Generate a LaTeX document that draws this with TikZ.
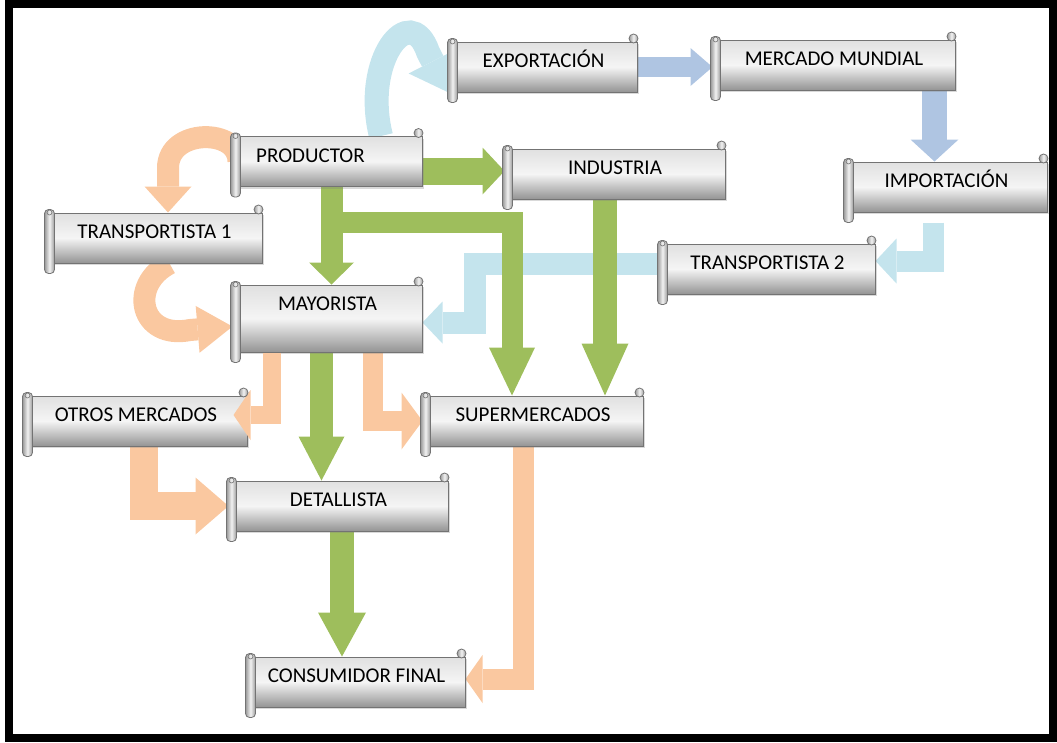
\documentclass[tikz,border=0pt]{standalone}
\usepackage{fontspec}
\usepackage{tikz}
\usetikzlibrary{arrows.meta,shadows}
\newfontfamily\boxfont{Carlito}
\definecolor{leafgreen}{HTML}{9EBE5C}
\definecolor{peach}{HTML}{FAC8A0}
\definecolor{aqua}{HTML}{C4E4ED}
\definecolor{steel}{HTML}{AFC5E2}
\pgfdeclarelayer{background}
\pgfsetlayers{background,main}
\tikzset{
BOX/.style={draw=black!55, line width=1pt, top color=black!12, bottom color=black!42, middle color=white!96!black,
  inner sep=0pt, minimum width=#1, text height=25.75pt, text depth=24.25pt,
  font=\boxfont\fontsize{21}{25}\selectfont, drop shadow={opacity=0.3,shadow xshift=2pt,shadow yshift=-2pt}},
ROLL/.style={draw=black!55, line width=0.8pt, left color=black!40, right color=black!40, middle color=white!95!black},
GREEN/.style={draw=leafgreen, line width=#1, line join=miter},
PEACH/.style={draw=peach, line width=#1, line join=miter},
AQUA/.style={draw=aqua, line width=#1, line join=miter},
STEEL/.style={draw=steel, line width=#1, line join=miter},
TIP/.style 2 args={-{Triangle[width=#1,length=#2,line width=0pt]}},
}
\begin{document}
\begin{tikzpicture}[x=1pt,y=-1pt]
	\useasboundingbox (0,0) rectangle (1057,742);
	\draw[line width=8pt] (9,4) rectangle (1053,738);
	% boxes
	\node[BOX=187pt] (expo) at (543.5,67) {EXPORTACIÓN};
	\node[BOX=242pt] (mundo) at (834,65) {MERCADO MUNDIAL};
	\node[BOX=189pt] (prod) at (327.5,161.5) {PRODUCTOR\hspace*{34pt}};
	\node[BOX=220pt] (ind) at (615,174) {INDUSTRIA};
	\node[BOX=201pt] (imp) at (946.5,187) {IMPORTACIÓN};
	\node[BOX=215pt] (trans1) at (154.5,238) {TRANSPORTISTA 1};
	\node[BOX=215pt] (trans2) at (767.5,269) {TRANSPORTISTA 2};
	\node[BOX=189pt, text depth=41.25pt] (may) at (327.5,318.5) {MAYORISTA};
	\node[BOX=222pt] (otros) at (136,421) {OTROS MERCADOS};
	\node[BOX=220pt] (super) at (533,421) {SUPERMERCADOS};
	\node[BOX=219pt] (det) at (338.5,506) {DETALLISTA};
	\node[BOX=217pt] (cons) at (356.5,682) {CONSUMIDOR FINAL};
	% this one lies over its box
	\draw[PEACH=18pt, TIP={50pt}{17pt}] ([xshift=-56]may.south) |- ([shift={(-14,-6)}]otros.east);
	% scroll ends
	\foreach \n in {expo,mundo,prod,ind,imp,trans1,trans2,may,otros,super,det,cons}{
		\path[ROLL, rounded corners=4pt] ([shift={(-2,-3)}]\n.north west) rectangle ([shift={(8,10)}]\n.south west);
		\path[ROLL] ([shift={(-4,-3)}]\n.north east) circle[radius=4.5];
		\draw[black!55, line width=0.6pt] ([shift={(3,0)}]\n.north west) circle[radius=2.5];
	}
	\begin{pgfonlayer}{background}
	% blue
	\draw[AQUA=24pt, TIP={54pt}{35pt}] ([xshift=53.5]prod.north) .. controls (362,60) and (410,0) .. (428,52) -- ([xshift=-1]expo.south west);
	\draw[STEEL=20pt, TIP={38pt}{22pt}] (expo.east) -- (expo.east -| mundo.west);
	\draw[STEEL=25pt, TIP={48pt}{22pt}] ([xshift=100.5]mundo.south) -- ([xshift=100.5]mundo.south |- imp.north);
	\draw[AQUA=21pt, TIP={45pt}{21pt}] ([shift={(-13.5,10)}]imp.south) |- ([yshift=8]trans2.east);
	\draw[AQUA=22pt, TIP={42pt}{20pt}] ([yshift=5]trans2.west) -| ([shift={(52,4)}]may.east) -- ([yshift=-4]may.east);
	% orange
	\draw[PEACH=22pt, TIP={47pt}{26pt}] ([xshift=6]prod.west) .. controls (239,128) and (168,128) .. (168,168) -- ([xshift=13.5]trans1.north);
	\draw[PEACH=22pt, TIP={47pt}{35pt}] ([xshift=15]trans1.south) .. controls (128,285) and (140,340) .. (190,330) -- ([yshift=-8]may.west);
	\draw[PEACH=20pt, TIP={57pt}{21pt}] ([xshift=45.5]may.south) |- (super.west);
	\draw[PEACH=28pt, TIP={57pt}{33pt}] ([xshift=8]otros.south) |- (det.west);
	\draw[PEACH=21pt, TIP={48pt}{17pt}] ([xshift=-9.5]super.south) |- ([yshift=3]cons.east);
	% green
	\draw[GREEN=21pt, TIP={46pt}{48pt}] ([xshift=15.5]prod.south |- 0,222) -| ([xshift=-21]super.north);
	\draw[GREEN=27pt, TIP={47pt}{22pt}] ([yshift=3]prod.east |- ind.west) -- ([yshift=3]ind.west);
	\draw[GREEN=22pt, TIP={45pt}{22pt}] ([xshift=4]prod.south) -- ([xshift=4]may.north);
	\draw[GREEN=24pt, TIP={47pt}{52pt}] ([xshift=-10]ind.south) -- ([xshift=-10]ind.south |- super.north);
	\draw[GREEN=23pt, TIP={46pt}{44pt}] ([xshift=-6]may.south) -- ([xshift=-6]may.south |- det.north);
	\draw[GREEN=24pt, TIP={48pt}{44pt}] ([xshift=3.5]det.south) -- ([xshift=3.5]det.south |- cons.north);
	\end{pgfonlayer}
\end{tikzpicture}
\end{document}
